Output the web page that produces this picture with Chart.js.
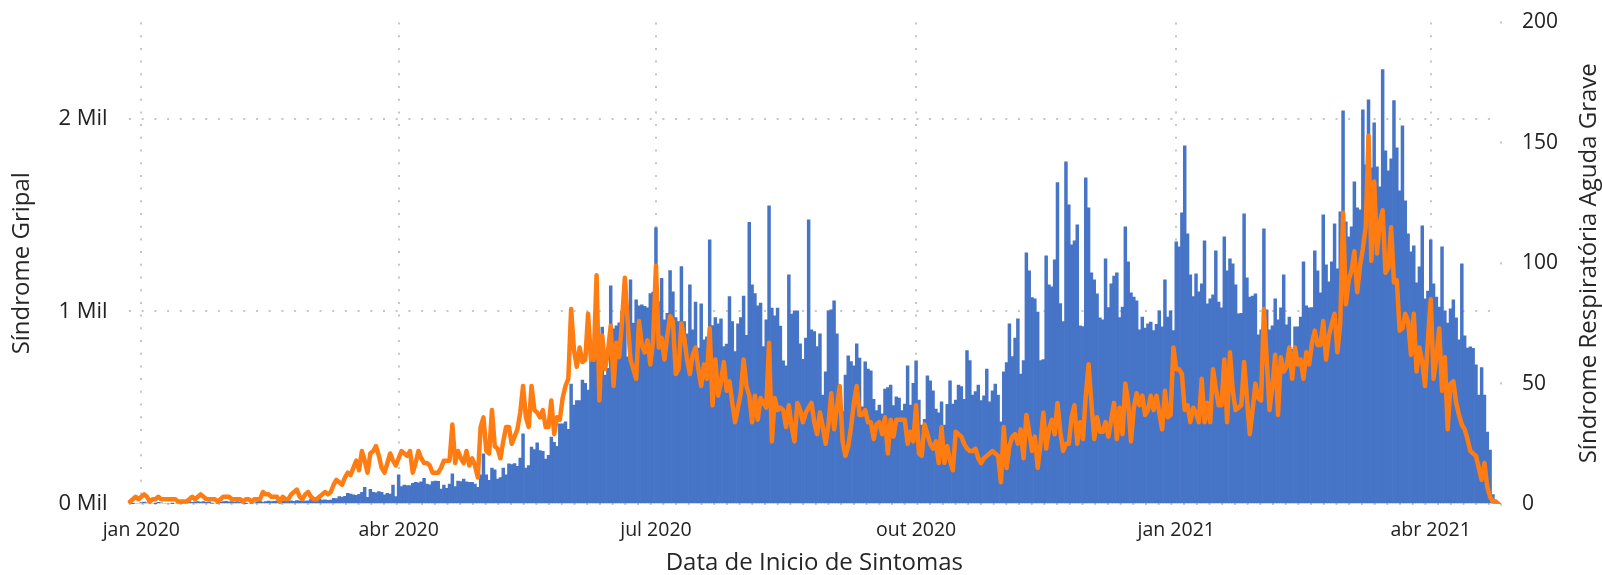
<!DOCTYPE html>
<html>
<head>
<meta charset="utf-8">
<script src="https://cdn.jsdelivr.net/npm/chart.js@4.4.1/dist/chart.umd.min.js"></script>
<style>
html,body{margin:0;padding:0;background:#ffffff;overflow:hidden;}
#wrap{width:1602px;height:575px;position:relative;}
canvas{display:block;}
</style>
</head>
<body>
<div id="wrap"><canvas id="c" width="1602" height="575"></canvas></div>
<script>
// ---- data ----
const firstDay = '2019-12-28';

// Síndrome Gripal, daily cases (left axis)
const gripalDaily = [
0,2,0,0,
8,10,6,0,0,2,9,6,0,0,
0,2,0,0,3,0,10,12,9,11,
13,10,12,9,11,3,0,4,10,12,
14,11,13,10,12,9,11,2,0,3,
6,12,14,10,13,15,12,14,16,13,
15,17,14,16,14,18,16,18,15,17,
26,22,28,25,20,22,19,21,30,28,
38,36,40,55,52,47,45,50,60,87,
35,76,61,58,64,60,47,55,52,98,
38,151,90,98,96,95,107,112,110,115,
133,104,100,116,119,118,78,98,81,104,
156,90,119,116,130,115,113,113,104,87,
151,260,151,123,187,177,130,137,187,151,
208,205,210,195,239,364,187,200,296,283,
317,278,274,233,253,348,320,300,416,416,
426,388,623,514,537,537,644,627,592,748,
740,760,750,919,670,705,1133,909,925,941,
1000,1100,764,1164,940,1060,1029,1034,1026,1019,
1092,1100,1435,1050,1172,956,990,1212,1101,968,
947,1233,947,883,1138,904,1049,809,1039,852,
868,1372,926,968,936,961,817,830,1077,947,
791,936,968,1080,876,1462,1138,1092,1029,1043,
817,956,1548,1017,977,1017,924,743,717,1190,
986,1003,1003,832,751,862,1475,904,895,817,
883,566,686,1003,1008,1055,883,561,480,670,
769,740,717,831,757,505,738,700,691,544,
485,514,468,597,604,618,511,557,550,485,
519,717,514,627,743,540,410,440,665,640,
587,493,474,531,410,518,639,519,540,618,
610,544,797,745,566,584,618,537,561,701,
531,587,623,566,426,686,734,935,765,862,
961,675,745,1304,1210,1072,1065,997,745,750,
1288,1138,1127,1268,1669,1041,947,1777,1553,1346,
1366,1449,925,921,1694,1538,1200,1164,1091,966,
956,1273,1020,1143,1184,1200,968,1023,1439,1257,
1096,1075,1055,904,971,914,935,944,900,933,
1003,920,1164,971,1003,900,1361,1335,1512,1860,
1403,1190,1077,1195,1101,1143,1366,1039,1065,1086,
1314,1049,1018,1387,1210,1273,1247,1138,987,990,
1507,1174,1075,1080,1091,878,904,1429,1008,904,
925,1065,956,1018,1190,930,971,803,920,920,
971,1257,1029,1018,1020,1314,1210,1096,1501,1242,
1153,1257,1455,1221,1517,2042,1465,1387,1439,1673,
1538,1527,2047,1761,2099,1745,1979,1751,1647,2255,
1834,1730,1792,2094,1849,1626,1964,1574,1403,1309,
1340,1148,1231,1444,1065,1106,1371,1143,1075,1023,
1335,1003,940,1013,1060,966,852,1247,873,810,
816,808,722,566,708,566,374,280,49,21,10
];

// Síndrome Respiratória Aguda Grave, daily cases (right axis)
const sragDaily = [
1,2,3,2,
3,4,3,1,2,2,3,2,2,2,
2,2,2,1,1,1,1,2,3,2,
3,4,3,2,2,2,2,1,2,3,
3,3,2,2,2,2,1,2,2,1,
2,2,2,5,4,4,3,3,3,1,
3,2,2,4,5,6,3,2,4,5,
3,2,2,3,4,5,4,5,8,10,
9,8,11,13,12,15,18,14,22,18,
13,21,22,24,20,15,13,17,21,18,
16,19,22,21,20,22,13,17,22,19,
17,17,16,13,13,13,15,18,18,18,
33,17,22,19,17,22,16,19,16,11,
32,36,22,21,39,24,23,19,26,32,
32,25,28,31,38,49,36,32,49,39,
38,36,39,32,32,43,29,36,35,44,
49,52,81,64,57,65,59,60,79,60,
60,95,43,70,56,63,74,49,67,61,
76,94,76,60,56,52,76,66,63,68,
58,68,99,65,69,60,70,78,76,54,
56,75,69,60,54,62,65,56,49,58,
52,73,41,60,45,51,59,47,51,42,
34,40,46,60,49,45,34,45,35,44,
42,40,67,26,44,39,40,39,32,41,
32,26,42,39,34,38,40,42,34,29,
38,32,25,33,46,31,40,49,26,20,
24,32,42,49,37,37,39,34,34,27,
33,34,29,36,21,35,28,35,35,35,
35,25,30,26,41,21,20,33,29,25,
23,26,17,32,17,24,18,14,30,29,
28,25,23,22,22,23,19,17,19,20,
21,22,21,20,9,32,15,24,28,29,
25,31,19,37,30,22,28,15,25,38,
23,31,35,29,42,30,22,25,25,36,
41,25,34,27,45,58,42,27,36,30,
30,34,28,35,42,27,40,29,50,42,
26,40,46,41,45,37,39,45,39,45,
38,31,47,36,37,65,56,56,54,39,
41,34,40,38,34,52,34,42,34,56,
48,41,41,60,34,63,47,39,40,41,
59,44,29,39,50,44,43,81,60,39,
49,62,37,61,55,57,65,52,65,58,
60,52,63,58,67,72,66,66,76,60,
70,75,79,63,75,121,83,93,97,105,
88,99,106,115,153,101,134,104,117,122,
96,98,115,92,93,72,73,79,76,62,
79,55,65,59,49,68,85,52,61,73,
47,61,31,50,51,42,37,33,31,27,
22,21,20,15,10,17,7,3,1,1,0
];

// x-axis tick labels (month starts)
const tickDates = ['2020-01-01','2020-04-01','2020-07-01','2020-10-01','2021-01-01','2021-04-01'];
const tickTexts = ['jan 2020','abr 2020','jul 2020','out 2020','jan 2021','abr 2021'];
// y-axis ticks
const leftTicks = [0, 1000, 2000];
const rightTicks = [0, 50, 100, 150, 200];

const xTitle = 'Data de Inicio de Sintomas';
const leftTitle = 'Síndrome Gripal';
const rightTitle = 'Síndrome Respiratória Aguda Grave';

// ---- categories ----
const dayLabels = [];
{
  const p = firstDay.split('-').map(Number);
  for (let i = 0; i < gripalDaily.length; i++) {
    const d = new Date(Date.UTC(p[0], p[1] - 1, p[2] + i));
    dayLabels.push(d.toISOString().slice(0, 10));
  }
}

// ---- layout / style ----
const FONT = "'Open Sans', 'Noto Sans', sans-serif";
const GRID = '#c6c6c6';
const TEXT = '#222222';
const TITLE = '#262626';
const AREA = {left: 128.6, top: 22.5, right: 1500, bottom: 504};
const dims = {xHeight: 575 - AREA.bottom, yWidth: AREA.left, y1Width: 1602 - AREA.right, padTop: AREA.top};

const rightTitlePlugin = {
  id: 'rightTitle',
  afterDraw(chart) {
    const {ctx, chartArea, scales} = chart;
    const ax = scales.y1;
    ctx.save();
    ctx.translate(ax.right - 13, (chartArea.top + chartArea.bottom) / 2);
    ctx.rotate(-Math.PI / 2);
    ctx.font = "24px " + FONT;
    ctx.fillStyle = TITLE;
    ctx.textAlign = 'center';
    ctx.textBaseline = 'middle';
    ctx.fillText(rightTitle, 0, 0);
    ctx.restore();
  }
};

const chart = new Chart(document.getElementById('c'), {
  type: 'bar',
  data: {
    labels: dayLabels,
    datasets: [
      {
        type: 'line',
        label: rightTitle,
        data: sragDaily,
        yAxisID: 'y1',
        borderColor: '#FF7C13',
        backgroundColor: '#FF7C13',
        borderWidth: 4.5,
        pointRadius: 0,
        tension: 0,
        borderJoinStyle: 'round',
        borderCapStyle: 'round',
        order: 1
      },
      {
        type: 'bar',
        label: leftTitle,
        data: gripalDaily,
        yAxisID: 'y',
        backgroundColor: '#4674C6',
        borderWidth: 0,
        barPercentage: 1,
        categoryPercentage: 1,
        order: 2
      }
    ]
  },
  options: {
    responsive: false,
    animation: false,
    devicePixelRatio: 1,
    layout: {padding: {left: 0, right: 0, top: dims.padTop, bottom: 0}},
    plugins: {legend: {display: false}, tooltip: {enabled: false}},
    scales: {
      x: {
        type: 'category',
        offset: true,
        grid: {
          offset: false,
          drawTicks: false,
          lineWidth: 2,
          color: (c) => (c.tick && c.tick.label) ? GRID : 'rgba(0,0,0,0)'
        },
        border: {display: false, dash: [2, 10.7]},
        ticks: {
          autoSkip: false,
          maxRotation: 0,
          minRotation: 0,
          padding: 15,
          color: TEXT,
          font: {family: FONT, size: 19.5},
          callback: function (v) {
            const k = tickDates.indexOf(this.getLabelForValue(v));
            return k >= 0 ? tickTexts[k] : null;
          }
        },
        title: {
          display: true, text: xTitle, color: TITLE,
          font: {family: FONT, size: 24, lineHeight: 1},
          padding: {top: 0, bottom: 0}
        },
        afterFit(s) { s.height = dims.xHeight; s.paddingLeft = 0; s.paddingRight = 0; }
      },
      y: {
        position: 'left',
        min: 0,
        max: 2500,
        afterBuildTicks(s) { s.ticks = leftTicks.map(v => ({value: v})); },
        grid: {drawTicks: false, lineWidth: 2, color: GRID},
        border: {display: false, dash: [2, 10.7]},
        ticks: {
          padding: 21,
          color: TEXT,
          font: {family: FONT, size: 22},
          callback: (v) => (v / 1000) + ' Mil'
        },
        title: {
          display: true, text: leftTitle, color: TITLE,
          font: {family: FONT, size: 24},
          padding: {top: 8, bottom: 0}
        },
        afterFit(s) { s.width = dims.yWidth; s.paddingTop = 0; s.paddingBottom = 0; }
      },
      y1: {
        position: 'right',
        min: 0,
        max: 200,
        afterBuildTicks(s) { s.ticks = rightTicks.map(v => ({value: v})); },
        grid: {drawOnChartArea: false, drawTicks: true, tickLength: 2, tickWidth: 2, tickColor: GRID},
        border: {display: false},
        ticks: {
          padding: 20,
          color: TEXT,
          font: {family: FONT, size: 21}
        },
        afterFit(s) { s.width = dims.y1Width; s.paddingTop = 0; s.paddingBottom = 0; }
      }
    }
  },
  plugins: [rightTitlePlugin]
});

// pin the plot area to the reference frame
for (let k = 0; k < 4; k++) {
  const ca = chart.chartArea;
  const dT = AREA.top - ca.top, dB = AREA.bottom - ca.bottom;
  const dL = AREA.left - ca.left, dR = AREA.right - ca.right;
  if (Math.abs(dT) + Math.abs(dB) + Math.abs(dL) + Math.abs(dR) < 0.05) break;
  dims.padTop += dT;
  dims.xHeight -= dB;
  dims.yWidth += dL;
  dims.y1Width -= dR;
  chart.config.options.layout.padding = {left: 0, right: 0, top: dims.padTop, bottom: 0};
  chart.update();
}
</script>
</body>
</html>
